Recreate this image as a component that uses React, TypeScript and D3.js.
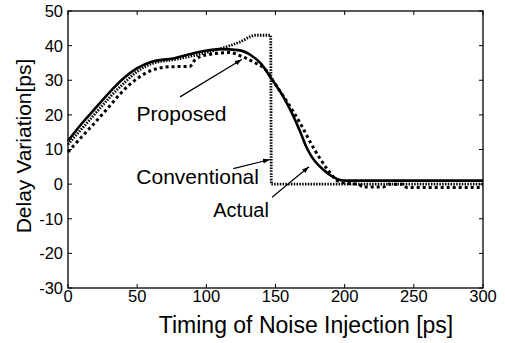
import React from "react";
import * as d3 from "d3";

const xTicks = [0, 50, 100, 150, 200, 250, 300];
const yTicks = [-30, -20, -10, 0, 10, 20, 30, 40, 50];

const actualT = [0, 10, 20, 30, 40, 50, 60, 76, 93, 110, 123, 132, 139, 147, 156, 162, 168, 172, 176, 185, 194, 200, 300];
const actualV = [12.5, 17.5, 22, 26.5, 30.5, 33.5, 35.3, 36.3, 38, 39, 38.7, 37.3, 35, 30.5, 25, 20.4, 15, 11, 8, 4, 1.6, 1, 1];

const propT = [0, 10, 20, 30, 38, 50, 62, 74, 88, 92, 100, 117, 126, 134, 144, 148, 158, 168, 177, 188, 194, 200, 210, 213, 228, 232, 242, 245, 300];
const propV = [9.3, 13.7, 18, 22.5, 26.2, 30.5, 33.1, 33.9, 34, 36, 37.3, 38, 36.8, 35.3, 32.5, 30, 24, 17.5, 10.8, 4, 1.2, 0.3, 0, -0.8, -0.8, 0, 0, -1, -1];

const convT = [0, 10, 20, 30, 40, 50, 60, 80, 100, 115, 124, 136, 146.5, 147, 300];
const convV = [11.5, 16, 20.5, 25, 29, 32.5, 34.7, 36.2, 38, 39.7, 41, 43, 43, 0, 0];

const labels = [
  { text: "Proposed", t: 49.6, v: 18.2, size: 21 },
  { text: "Conventional", t: 49.4, v: 0, size: 21 },
  { text: "Actual", t: 105, v: -9.5, size: 20 },
];
const arrows = [
  { t0: 81, v0: 25.2, t1: 125.6, v1: 36.0 },
  { t0: 119.5, v0: 4.5, t1: 146, v1: 7.1 },
  { t0: 147.5, v0: -3.8, t1: 174.2, v1: 5.0 },
];

const W = 505;
const H = 343;
const L = 68, R = 483, T = 11, B = 288;
const FONT = "'Liberation Sans', Arial, Helvetica, sans-serif";

export default function App() {
  const x = d3.scaleLinear().domain([0, 300]).range([L, R]);
  const y = d3.scaleLinear().domain([-30, 50]).range([B, T]);
  const line = d3
    .line<[number, number]>()
    .x((d) => x(d[0]))
    .y((d) => y(d[1]))
    .curve(d3.curveMonotoneX);
  const zip = (a: number[], b: number[]) => a.map((t, i) => [t, b[i]] as [number, number]);
  const tick = 4;

  return (
    <svg
      width={W}
      height={H}
      style={{ position: "absolute", left: 0, top: 0, background: "#fff" }}
      fontFamily={FONT}
    >
      <defs>
        <marker id="ah" viewBox="0 0 10 10" refX="10" refY="5" markerWidth="7" markerHeight="7" orient="auto" markerUnits="userSpaceOnUse">
          <path d="M0,1.5 L10,5 L0,8.5 Z" fill="#000" />
        </marker>
      </defs>
      <rect x={0} y={0} width={W} height={H} fill="#fff" />
      {/* curves */}
      <path d={line(zip(convT, convV)) || ""} fill="none" stroke="#000" strokeWidth={2.8} strokeDasharray="1.5,1.3" />
      <path d={line(zip(propT, propV)) || ""} fill="none" stroke="#000" strokeWidth={3} strokeDasharray="3,3" />
      <path d={line(zip(actualT, actualV)) || ""} fill="none" stroke="#000" strokeWidth={2.6} />
      {/* box */}
      <rect x={L} y={T} width={R - L} height={B - T} fill="none" stroke="#000" strokeWidth={1.3} />
      {xTicks.map((t) => (
        <g key={"x" + t}>
          <line x1={x(t)} x2={x(t)} y1={B} y2={B - tick} stroke="#000" strokeWidth={1} />
          <line x1={x(t)} x2={x(t)} y1={T} y2={T + tick} stroke="#000" strokeWidth={1} />
          <text x={x(t)} y={302} fontSize={16.5} textAnchor="middle">{t}</text>
        </g>
      ))}
      {yTicks.map((v) => (
        <g key={"y" + v}>
          <line x1={L} x2={L + tick} y1={y(v)} y2={y(v)} stroke="#000" strokeWidth={1} />
          <line x1={R} x2={R - tick} y1={y(v)} y2={y(v)} stroke="#000" strokeWidth={1} />
          <text x={63} y={y(v)} dy="0.36em" fontSize={16.5} textAnchor="end">{v}</text>
        </g>
      ))}
      {/* annotations */}
      {arrows.map((a, i) => (
        <line key={"a" + i} x1={x(a.t0)} y1={y(a.v0)} x2={x(a.t1)} y2={y(a.v1)} stroke="#000" strokeWidth={1.2} markerEnd="url(#ah)" />
      ))}
      {labels.map((l) => (
        <text key={l.text} x={x(l.t)} y={y(l.v)} fontSize={l.size}>{l.text}</text>
      ))}
      {/* axis titles */}
      <text x={306} y={333} fontSize={23} textAnchor="middle">Timing of Noise Injection [ps]</text>
      <text transform="translate(31,146) rotate(-90)" fontSize={21} textAnchor="middle">Delay Variation[ps]</text>
    </svg>
  );
}
